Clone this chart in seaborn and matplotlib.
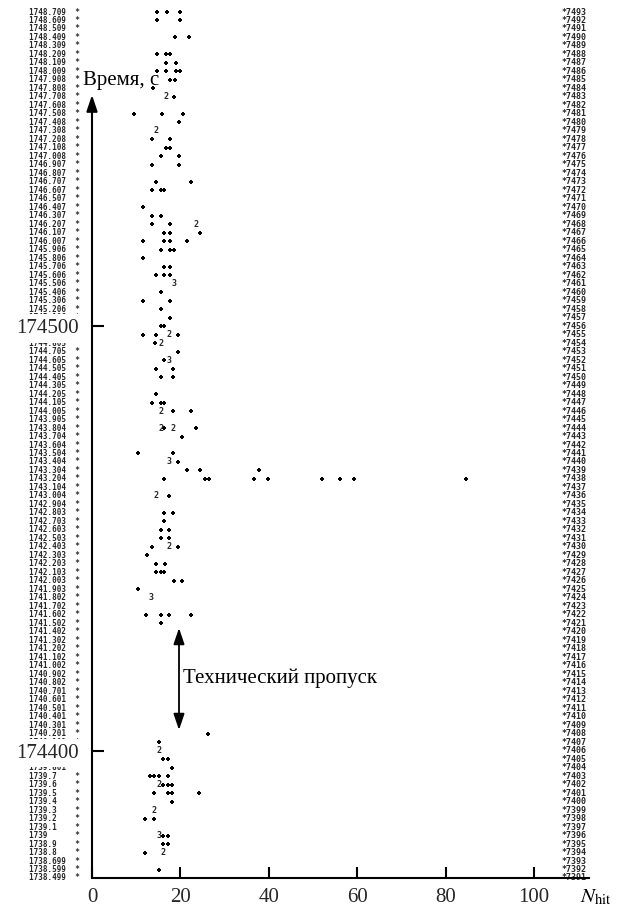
import numpy as np
import pandas as pd
import matplotlib
matplotlib.use("Agg")
import matplotlib.pyplot as plt
import seaborn as sns

# ---------------- data ----------------
left_labels = [
    "1748.709", "1748.609", "1748.509", "1748.409", "1748.309", "1748.209", "1748.109", "1748.009",
    "1747.908", "1747.808", "1747.708", "1747.608", "1747.508", "1747.408", "1747.308", "1747.208",
    "1747.108", "1747.008",
    "1746.907", "1746.807", "1746.707", "1746.607", "1746.507", "1746.407", "1746.307", "1746.207",
    "1746.107", "1746.007",
    "1745.906", "1745.806", "1745.706", "1745.606", "1745.506", "1745.406", "1745.306", "1745.206",
    "1745.106", "1745.005",
    "1744.905", "1744.805", "1744.705", "1744.605", "1744.505", "1744.405", "1744.305", "1744.205",
    "1744.105", "1744.005",
    "1743.905", "1743.804", "1743.704", "1743.604", "1743.504", "1743.404", "1743.304", "1743.204",
    "1743.104", "1743.004",
    "1742.904", "1742.803", "1742.703", "1742.603", "1742.503", "1742.403", "1742.303", "1742.203",
    "1742.103", "1742.003",
    "1741.903", "1741.802", "1741.702", "1741.602", "1741.502", "1741.402", "1741.302", "1741.202",
    "1741.102", "1741.002",
    "1740.902", "1740.802", "1740.701", "1740.601", "1740.501", "1740.401", "1740.301", "1740.201",
    "1740.101", "1740.001",
    "1739.901", "1739.801", "1739.7", "1739.6", "1739.5", "1739.4", "1739.3", "1739.2",
    "1739.1", "1739",
    "1738.9", "1738.8", "1738.699", "1738.599", "1738.499",
]
right_ids = list(range(7493, 7390, -1))

T_TOP = 174574.0      # time of the first printed row, s
ROW_STEP = 2.0        # seconds between printed rows

# hits: row index, N_hit value, multiplicity (digit printed when > 1)
hit_row = [
    0, 0, 0, 1, 1, 3, 3, 5, 5, 5, 6, 6, 7, 7, 7, 7, 8, 8, 9, 10, 10,
    12, 12, 12, 13, 14, 15, 15, 16, 16, 17, 17, 18, 18, 20, 20,
    21, 21, 21, 23, 24, 24, 25, 25, 25, 26, 26, 26, 27, 27, 27, 27,
    28, 28, 28, 29, 30, 30, 31, 31, 31, 32, 33, 34, 34, 35, 36, 37, 37,
    38, 38, 38, 38, 39, 39, 40, 41, 41, 42, 42, 43, 43, 45, 46, 46, 46,
    47, 47, 47, 49, 49, 49, 49, 50, 52, 52, 53, 53, 54, 54, 54,
    55, 55, 55, 55, 55, 55, 55, 55, 55, 57, 57, 59, 59, 60, 61, 61, 62, 62,
    63, 63, 63, 64, 65, 65, 66, 66, 66, 67, 67, 68, 69, 71, 71, 71, 71, 72,
    85, 86, 87, 88, 88, 89, 90, 90, 90, 90, 91, 91, 91, 91, 92, 92, 92, 92,
    93, 94, 95, 95, 97, 97, 97, 98, 98, 99, 99, 101,
]
hit_n = [
    14.8, 17.0, 20.0, 14.8, 20.0, 18.8, 21.9, 14.7, 16.7, 17.7, 16.7, 18.9, 14.8, 16.7, 18.9, 19.8,
    17.7, 18.7, 13.7, 16.7, 18.6,
    9.6, 15.8, 20.6, 19.6, 14.5, 13.6, 17.7, 16.7, 17.7, 15.7, 19.6, 13.6, 19.6, 14.5, 22.5,
    13.6, 15.5, 16.4, 11.5, 13.6, 15.6, 13.6, 17.6, 23.6, 16.4, 17.6, 24.5, 11.5, 16.4, 17.6, 21.5,
    15.5, 17.6, 18.6, 11.5, 16.4, 17.6, 14.5, 16.4, 17.6, 18.5, 15.5, 11.5, 17.6, 15.5, 17.6, 15.5, 16.4,
    11.5, 14.5, 17.5, 19.5, 14.3, 15.5, 19.5, 16.4, 17.4, 14.5, 18.4, 15.5, 18.4, 14.5, 13.6, 15.5, 16.4,
    15.5, 18.4, 22.4, 15.5, 16.4, 18.4, 23.5, 20.4, 10.3, 18.4, 17.4, 19.4, 21.5, 24.5, 37.8,
    16.4, 25.5, 26.5, 36.7, 39.8, 52.1, 56.1, 59.2, 84.6, 14.5, 17.4, 16.4, 18.4, 16.4, 15.5, 17.4,
    15.5, 17.4,
    13.6, 17.4, 19.4, 12.5, 14.5, 16.6, 14.5, 15.5, 16.4, 18.5, 20.4, 10.3, 13.4, 12.3, 15.5, 17.4,
    22.3, 15.5,
    26.3, 15.2, 15.2, 16.1, 17.1, 18.1, 13.1, 14.1, 15.2, 17.1, 15.2, 16.1, 17.1, 18.1, 14.1, 17.1,
    18.1, 24.2,
    18.1, 14.1, 12.0, 14.1, 15.2, 16.1, 17.1, 16.1, 17.1, 12.0, 16.1, 15.2,
]
hit_mult = [
    1, 1, 1, 1, 1, 1, 1, 1, 1, 1, 1, 1, 1, 1, 1, 1, 1, 1, 1, 2, 1,
    1, 1, 1, 1, 2, 1, 1, 1, 1, 1, 1, 1, 1, 1, 1,
    1, 1, 1, 1, 1, 1, 1, 1, 2, 1, 1, 1, 1, 1, 1, 1,
    1, 1, 1, 1, 1, 1, 1, 1, 1, 3, 1, 1, 1, 1, 1, 1, 1,
    1, 1, 2, 1, 1, 2, 1, 1, 3, 1, 1, 1, 1, 1, 1, 1, 1,
    2, 1, 1, 2, 1, 2, 1, 1, 1, 1, 3, 1, 1, 1, 1,
    1, 1, 1, 1, 1, 1, 1, 1, 1, 2, 1, 1, 1, 1, 1, 1, 1, 1,
    1, 2, 1, 1, 1, 1, 1, 1, 1, 1, 1, 1, 3, 1, 1, 1, 1, 1,
    1, 1, 2, 1, 1, 1, 1, 1, 1, 1, 2, 1, 1, 1, 1, 1, 1, 1,
    1, 2, 1, 1, 3, 1, 1, 1, 1, 1, 2, 1,
]

x_ticks = [0, 20, 40, 60, 80, 100]
y_ticks = [174400, 174500]

# ---------------- plot ----------------
sns.set_theme(style="white")
plt.rcParams["font.family"] = ["Liberation Serif", "DejaVu Serif"]
plt.rcParams["mathtext.fontset"] = "stix"
plt.rcParams["axes.axisbelow"] = False

row_time = T_TOP - ROW_STEP * np.arange(len(left_labels))
df = pd.DataFrame({"t": row_time[np.array(hit_row)], "n": hit_n, "m": hit_mult})

W, H = 623, 915
fig = plt.figure(figsize=(W / 100, H / 100), dpi=100)
ax_left, ax_right, ax_bot, ax_top = 92, 589, 878, 0
ax = fig.add_axes([ax_left / W, (H - ax_bot) / H, (ax_right - ax_left) / W, (ax_bot - ax_top) / H])
ax.set_facecolor("white")
ax.set_axisbelow(False)

px_per_unit = 4.42
ax.set_xlim(0, (ax_right - ax_left) / px_per_unit)
ax.set_ylim(row_time[-1], row_time[0] + 12 / 4.245)

singles = df[df["m"] == 1]
sns.scatterplot(data=singles, x="n", y="t", marker="P", s=12, color="black",
                linewidth=0, ax=ax, legend=False, zorder=4, clip_on=False)
for r in df[df["m"] > 1].itertuples():
    ax.text(r.n, r.t, str(r.m), ha="center", va="center", fontsize=6,
            family="DejaVu Sans Mono", fontweight="bold", zorder=4)

ytr = ax.get_yaxis_transform()
for lab, t in zip(left_labels, row_time):
    ax.text(-63 / 497, t, f"{lab:<10}*", transform=ytr, ha="left", va="center",
            fontsize=5.5, family="DejaVu Sans Mono", fontweight="bold",
            clip_on=False, zorder=0.2)
for rid, t in zip(right_ids, row_time):
    ax.text(470 / 497, t, f"*{rid}", transform=ytr, ha="left", va="center",
            fontsize=6, family="DejaVu Sans Mono", fontweight="bold",
            clip_on=False, zorder=0.2)

# axes styling
for s in ["top", "right", "left"]:
    ax.spines[s].set_visible(False)
ax.spines["bottom"].set_linewidth(1.5)
ax.spines["bottom"].set_color("black")
ax.spines["bottom"].set_zorder(5)

ax.set_xticks(x_ticks)
ax.set_xticklabels([str(v) for v in x_ticks])
ax.set_yticks(y_ticks)
ax.set_yticklabels([str(v) for v in y_ticks])
ax.tick_params(axis="x", direction="in", length=8, width=1.5, color="black",
               labelsize=15, pad=7, bottom=True)
ax.tick_params(axis="y", direction="in", length=8.5, width=1.5, color="black",
               labelsize=15, pad=9.5, left=True)
for lab in ax.get_yticklabels():
    lab.set_bbox(dict(facecolor="white", edgecolor="none", pad=3.5))
ax.xaxis.set_zorder(3)
ax.yaxis.set_zorder(3)
ax.set_xlabel("")
ax.set_ylabel("")

# vertical time axis with arrow
ax.annotate("", xy=(0, 1 - 95 / 878), xytext=(0, 0), xycoords="axes fraction",
            textcoords="axes fraction",
            arrowprops=dict(arrowstyle="-|>,head_length=0.65,head_width=0.22",
                            lw=1.5, color="black", mutation_scale=15,
                            shrinkA=0, shrinkB=0), annotation_clip=False)
ax.text(-9 / 497, 1 - 80 / 878, "Время, с", transform=ax.transAxes,
        ha="left", va="center", fontsize=15, color="black", zorder=3)

# technical gap annotation
ax.annotate("", xy=(87 / 497, 1 - 628 / 878), xytext=(87 / 497, 1 - 730 / 878),
            xycoords="axes fraction", textcoords="axes fraction",
            arrowprops=dict(arrowstyle="<|-|>,head_length=0.65,head_width=0.22",
                            lw=1.3, color="black", mutation_scale=15,
                            shrinkA=0, shrinkB=0))
ax.text(91 / 497, 1 - 678 / 878, "Технический пропуск", transform=ax.transAxes,
        ha="left", va="center", fontsize=15, color="black")

ax.text(488 / 497, -19 / 878, r"$N_{\mathrm{hit}}$", transform=ax.transAxes,
        ha="left", va="center", fontsize=15, color="black")

fig.savefig("out.png", dpi=100, facecolor="white")
